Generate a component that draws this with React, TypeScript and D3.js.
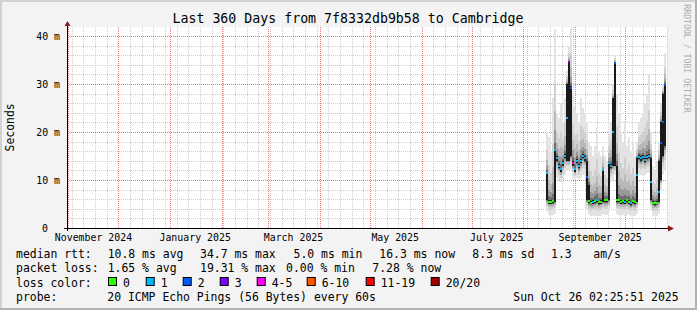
import React from 'react';
import * as d3 from 'd3';

// ---------- data ----------
const DAY = 86400000;
const END = Date.UTC(2025, 9, 26, 2, 25, 51);
const START = END - 360 * DAY;

const title = 'Last 360 Days from 7f8332db9b58 to Cambridge';
const yLabel = 'Seconds';
const yTicks = [0, 10, 20, 30, 40];
const yTickLabels = ['0', '10 m', '20 m', '30 m', '40 m'];
const xLabels = ['November 2024', 'January 2025', 'March 2025', 'May 2025', 'July 2025', 'September 2025'];
const xLabelDates = [
  Date.UTC(2024, 10, 16), Date.UTC(2025, 0, 16), Date.UTC(2025, 2, 16),
  Date.UTC(2025, 4, 16), Date.UTC(2025, 6, 16), Date.UTC(2025, 8, 16),
];

// samples: one every 1.2 days starting at dataStart
const dataStart = Date.UTC(2025, 7, 14, 12);
const dataStep = 1.2 * DAY;
const median = [11.5, 5.5, 5.5, 5.6, 16.3, 14.5, 13.0, 12.2, 13.5, 15.0, 23.0, 34.6, 29.2, 13.5, 12.2, 14.0, 13.0, 14.0, 15.0, 14.5, 10.7, 5.6, 5.3, 5.5, 5.6, 5.8, 5.4, 5.5, 12.0, 5.8, 5.8, 13.5, 13.0, 20.0, 34.4, 5.8, 5.8, 5.5, 5.6, 5.5, 5.8, 5.5, 5.2, 5.6, 5.4, 11.0, 14.8, 14.5, 14.8, 14.2, 14.8, 15.0, 9.5, 5.3, 5.2, 5.3, 7.5, 17.8, 22.0, 29.8];
const lossIdx = [1, 0, 0, 0, 1, 1, 1, 1, 1, 1, 1, 3, 2, 4, 1, 1, 1, 1, 1, 1, 2, 0, 0, 1, 0, 1, 0, 0, 1, 0, 0, 1, 1, 1, 2, 0, 0, 0, 0, 1, 0, 0, 1, 0, 0, 1, 1, 1, 1, 1, 1, 1, 1, 0, 0, 0, 1, 2, 2, 2];
const pingMin = [3.5, 2.8, 2.8, 2.8, 3.0, 10.5, 10.0, 9.5, 10.0, 11.0, 12.0, 12.0, 12.0, 10.5, 10.0, 10.5, 10.0, 10.5, 11.0, 11.0, 4.0, 2.8, 2.5, 2.5, 2.5, 2.5, 2.5, 2.6, 3.0, 2.8, 2.8, 3.5, 9.5, 10.0, 11.0, 3.0, 2.8, 2.8, 2.8, 2.8, 2.8, 2.8, 2.5, 2.5, 2.5, 3.0, 11.0, 11.0, 11.0, 11.0, 11.5, 11.5, 4.0, 2.5, 2.5, 2.5, 3.0, 8.0, 11.0, 12.0];
const pingLowMid = [5.8, 5.1, 5.1, 5.2, 5.5, 14.0, 12.5, 11.7, 13.0, 14.5, 14.0, 14.0, 15.0, 13.0, 11.7, 13.5, 12.5, 13.5, 14.5, 14.0, 5.8, 5.2, 4.9, 5.1, 5.2, 5.4, 5.0, 5.1, 5.5, 5.4, 5.4, 5.8, 12.5, 13.0, 13.0, 5.4, 5.4, 5.1, 5.2, 5.1, 5.4, 5.1, 4.8, 5.2, 5.0, 5.5, 14.3, 14.0, 14.3, 13.7, 14.3, 14.5, 5.8, 4.9, 4.8, 4.9, 5.5, 10.0, 15.0, 17.0];
const pingHighMid = [11.5, 5.8, 5.8, 5.9, 16.3, 14.9, 13.4, 12.6, 13.9, 15.4, 30.0, 34.6, 29.5, 13.9, 12.6, 14.4, 13.4, 14.4, 15.4, 14.9, 14.0, 9.0, 5.6, 5.8, 5.9, 6.1, 5.7, 5.8, 12.0, 6.1, 6.1, 13.5, 13.4, 27.0, 34.4, 13.0, 6.1, 5.8, 5.9, 5.8, 6.1, 5.8, 5.5, 5.9, 5.7, 14.5, 15.2, 14.9, 15.2, 14.6, 15.2, 15.4, 14.5, 5.6, 5.5, 5.6, 14.0, 22.0, 28.0, 30.0];
const pingMax = [20, 19, 16, 27, 41.5, 24, 23, 26, 22, 27, 33, 38, 41.7, 28, 25, 24, 22, 27, 25, 24, 22, 18, 17, 15, 17, 21, 16, 15, 17, 15, 14, 20, 22, 30, 36, 28, 24, 20, 18, 22, 17, 19, 16, 18, 15, 18, 22, 23, 24, 26, 28, 32, 20, 13, 12, 14, 18, 26, 30, 36.5];

const lossLabels = ['0', '1', '2', '3', '4-5', '6-10', '11-19', '20/20'];
const lossColors = ['#26ff00', '#00b8ff', '#0059ff', '#7e00ff', '#ff00ff', '#ff5500', '#ff0000', '#a10000'];

const rttHead = 'median rtt:';
const rttStats = ['10.8 ms avg', '34.7 ms max', '5.0 ms min', '16.3 ms now', '8.3 ms sd', '1.3', 'am/s'];
const lossHead = 'packet loss:';
const lossStats = ['1.65 % avg', '19.31 % max', '0.00 % min', '7.28 % now'];
const colorHead = 'loss color:';
const probeHead = 'probe:';
const probeText = '20 ICMP Echo Pings (56 Bytes) every 60s';
const dateText = 'Sun Oct 26 02:25:51 2025';
const watermark = 'RRDTOOL / TOBI OETIKER';

// ---------- layout ----------
const W = 697, H = 310;
const PL = 67, PR = 667, PT = 27, PB = 228;
const Y_MAX = (PB - PT) / 4.8;
const MONO = "'DejaVu Sans Mono', monospace";
const rttX = [107.7, 200, 293.5, 379.3, 472.3, 551, 593.3];
const lossX = [107.7, 200, 286, 372.3];
const swatchX = [108, 145.7, 182.7, 219.7, 256.7, 306.7, 365.7, 430.7];
const rowY = [258, 272.3, 286.5, 300.7];

const SHADE_G = [1, 0.55, 0.32, 0.16, 0.06];
const SHADES = ['#e3e3e3', '#d0d0d0', '#b8b8b8', '#999999', '#6e6e6e'];

export default function App() {
  const x = d3.scaleUtc().domain([START, END]).range([PL, PR]);
  const y = d3.scaleLinear().domain([0, Y_MAX]).range([PB, PT]);

  const minorH = d3.range(2, 41, 2).filter((v) => v % 10 !== 0);
  const majorH = yTicks.filter((v) => v > 0);
  const months = d3.utcMonth.range(new Date(START), new Date(END));
  const monthSet = new Set(months.map((d) => +d));
  const weeks = d3.utcSunday.range(new Date(START), new Date(END)).filter((d) => !monthSet.has(+d));

  const px = (v: number) => Math.round(v) + 0.5;

  const cols = median.map((m, i) => {
    const x0 = Math.round(x(new Date(dataStart + i * dataStep)));
    const x1 = Math.round(x(new Date(dataStart + (i + 1) * dataStep)));
    return { x0, w: Math.max(1, Math.min(x1, PR) - x0), m, i };
  });

  return (
    <svg width={W} height={H} style={{ position: 'fixed', left: 0, top: 0, display: 'block' }} fontFamily={MONO}>
      {/* canvas & frame */}
      <rect x={0} y={0} width={W} height={H} fill="#f3f3f3" />
      <rect x={0} y={0} width={W} height={2} fill="#d2d2d2" />
      <rect x={0} y={0} width={2} height={H} fill="#d2d2d2" />
      <rect x={0} y={H - 2} width={W} height={2} fill="#b0b0b0" />
      <rect x={W - 2} y={0} width={2} height={H} fill="#b0b0b0" />
      <rect x={PL} y={PT} width={PR - PL} height={PB - PT} fill="#ffffff" />

      {/* grid */}
      <g strokeWidth={1} strokeDasharray="1 1" fill="none" shapeRendering="crispEdges">
        {minorH.map((v) => (
          <line key={'mh' + v} x1={PL} x2={PR} y1={px(y(v))} y2={px(y(v))} stroke="#cdcdcd" />
        ))}
        {weeks.map((d) => (
          <line key={'mv' + +d} x1={px(x(d))} x2={px(x(d))} y1={PT} y2={PB} stroke="#cdcdcd" />
        ))}
        {majorH.map((v) => (
          <line key={'Mh' + v} x1={PL} x2={PR} y1={px(y(v))} y2={px(y(v))} stroke="#ee7a7a" />
        ))}
        {months.map((d) => (
          <line key={'Mv' + +d} x1={px(x(d))} x2={px(x(d))} y1={PT} y2={PB} stroke="#ee7a7a" />
        ))}
      </g>

      {/* smoke */}
      <g shapeRendering="crispEdges">
        {cols.map((c) =>
          SHADE_G.map((g, k) => {
            const top = pingHighMid[c.i] + (pingMax[c.i] - pingHighMid[c.i]) * g;
            const bot = pingLowMid[c.i] - (pingLowMid[c.i] - pingMin[c.i]) * g;
            const yt = y(Math.min(top, Y_MAX));
            const yb = y(bot);
            return <rect key={'s' + c.i + '-' + k} x={c.x0} width={c.w} y={yt} height={yb - yt} fill={SHADES[k]} />;
          })
        )}
        {cols.map((c) => {
          const yt = y(pingHighMid[c.i]);
          const yb = y(pingLowMid[c.i]);
          return <rect key={'c' + c.i} x={c.x0} width={c.w} y={yt} height={yb - yt} fill="#1a1a1a" />;
        })}
        {cols.map((c) => (
          <rect key={'m' + c.i} x={c.x0} width={c.w} y={Math.round(y(c.m)) - 1} height={2} fill={lossColors[lossIdx[c.i]]} />
        ))}
      </g>

      {/* axes */}
      <line x1={PL - 3} x2={PR + 2} y1={PB + 0.5} y2={PB + 0.5} stroke="#000" strokeWidth={1} />
      <line x1={PL + 0.5} x2={PL + 0.5} y1={PB + 3} y2={PT - 2} stroke="#000" strokeWidth={1} />
      <path d={`M${PR + 1},${PB - 2.5} L${PR + 7},${PB + 0.5} L${PR + 1},${PB + 3.5} Z`} fill="#8b1a1a" />
      <path d={`M${PL - 2.5},${PT - 1} L${PL + 0.5},${PT - 6} L${PL + 3.5},${PT - 1} Z`} fill="#8b1a1a" />

      {/* y tick labels */}
      {yTicks.map((v, i) => (
        <text key={'yl' + v} x={v === 0 ? 48 : 60} y={y(v) + 3.5} fontSize={9.9} textAnchor="end" fill="#000">
          {yTickLabels[i]}
        </text>
      ))}
      {/* x labels */}
      {xLabels.map((s, i) => (
        <text key={'xl' + s} x={x(new Date(xLabelDates[i]))} y={241} fontSize={9.9} textAnchor="middle" fill="#000">
          {s}
        </text>
      ))}

      {/* title & axis title */}
      <text x={348} y={23.3} fontSize={13.25} textAnchor="middle" fill="#000">{title}</text>
      <text transform="translate(14,127.4) rotate(-90)" fontSize={11.45} textAnchor="middle" fill="#000">{yLabel}</text>
      <text transform="translate(684,58.5) rotate(90)" fontSize={8.2} textAnchor="middle" fill="#acacac">{watermark}</text>

      {/* legend */}
      <g fontSize={11.45} fill="#000">
        <text x={16} y={rowY[0]}>{rttHead}</text>
        {rttStats.map((s, i) => (
          <text key={'r' + i} x={rttX[i]} y={rowY[0]}>{s}</text>
        ))}
        <text x={16} y={rowY[1]}>{lossHead}</text>
        {lossStats.map((s, i) => (
          <text key={'l' + i} x={lossX[i]} y={rowY[1]}>{s}</text>
        ))}
        <text x={16} y={rowY[2]}>{colorHead}</text>
        {lossLabels.map((s, i) => (
          <g key={'c' + i}>
            <rect x={swatchX[i] + 0.5} y={277.5} width={8} height={8} fill={lossColors[i]} stroke="#000" strokeWidth={1} />
            <text x={swatchX[i] + 15} y={rowY[2]}>{s}</text>
          </g>
        ))}
        <text x={16} y={rowY[3]}>{probeHead}</text>
        <text x={107.3} y={rowY[3]}>{probeText}</text>
        <text x={513.3} y={rowY[3]}>{dateText}</text>
      </g>
    </svg>
  );
}
